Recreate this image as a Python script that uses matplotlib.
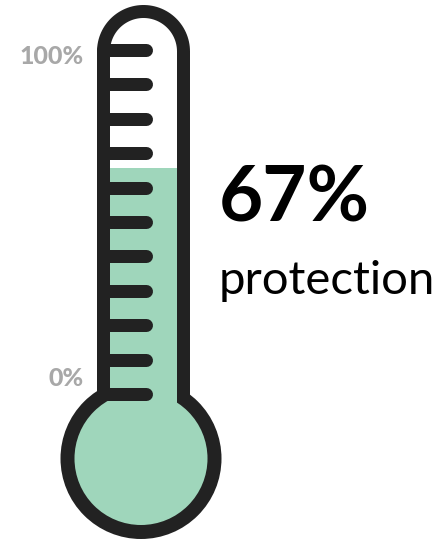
import matplotlib
matplotlib.use("Agg")
import matplotlib.pyplot as plt
from matplotlib.patches import Circle, PathPatch
from matplotlib.path import Path
import numpy as np

# ---- data ----
value = 67                      # percent protection
tick_values = list(range(0, 101, 10))
axis_labels = ["0%", "100%"]
axis_label_values = [0, 100]
headline = "67%"
caption = "protection"

# ---- style / layout (pixel space) ----
W, H = 447, 540
DARK = "#222222"
GREEN = "#9fd6bb"
GRAY = "#a8a8a8"
Y100, Y0 = 50.0, 394.0          # pixel rows of 100% and 0% ticks
FILL_Y0 = 408.0                 # pixel row where fill scale is 0

def ypix(p, y0=Y0):
    return y0 - p / 100.0 * (y0 - Y100)

fig = plt.figure(figsize=(W / 100, H / 100), dpi=100)
ax = fig.add_axes([0, 0, 1, 1])
ax.set_xlim(0, W)
ax.set_ylim(H, 0)
ax.axis("off")

# geometry
tx0, tx1 = 97.0, 190.0          # outer tube edges
wall = 13.0
top = 5.0
bcx, bcy, br = 141.0, 458.5, 80.5  # bulb

def tube_path(x0, x1, ytop, ybot):
    r = (x1 - x0) / 2
    cx = (x0 + x1) / 2
    cy = ytop + r
    th = np.linspace(np.pi, 0, 60)
    xs = list(cx + r * np.cos(th))
    ys = list(cy - r * np.sin(th))
    xs = [x0] + xs + [x1, x1, x0]
    ys = [ybot] + ys + [ybot, ybot, ybot]
    verts = list(zip(xs, ys))
    codes = [Path.MOVETO] + [Path.LINETO] * (len(verts) - 2) + [Path.CLOSEPOLY]
    return Path(verts, codes)

# outer dark shape
ax.add_patch(PathPatch(tube_path(tx0, tx1, top, bcy), fc=DARK, ec="none", zorder=1))
ax.add_patch(Circle((bcx, bcy), br, fc=DARK, ec="none", zorder=1))

# inner white tube
inner = PathPatch(tube_path(tx0 + wall, tx1 - wall, top + wall, bcy), fc="white", ec="none", zorder=2)
ax.add_patch(inner)
ax.add_patch(Circle((bcx, bcy), br - 14, fc=GREEN, ec="none", zorder=2))

# green fill in tube from value down to bulb
fy = ypix(value, FILL_Y0)
bars = ax.bar([(tx0 + tx1) / 2], [bcy - fy], bottom=[fy], width=(tx1 - tx0 - 2 * wall),
              color=GREEN, zorder=3, linewidth=0)
for b in bars:
    b.set_clip_path(inner)

# tick marks
lw_pt = 13 * 72 / 100
for v in tick_values:
    y = ypix(v)
    ax.plot([tx0 + 6, 146], [y, y], color=DARK, lw=lw_pt, solid_capstyle="round", zorder=4)

# axis labels
for lab, v in zip(axis_labels, axis_label_values):
    ax.text(84, ypix(v) + 7 if v == 100 else ypix(v) - 15, lab, ha="right", va="center",
            color=GRAY, fontsize=18, fontweight=900, family="Lato")

# headline text
ax.text(219, 199, headline, ha="left", va="center", fontsize=55, fontweight="bold",
        color="black", family="Lato")
ax.text(219, 281, caption, ha="left", va="center", fontsize=34, color="black", family="Lato")

fig.savefig("out.png", dpi=100)
